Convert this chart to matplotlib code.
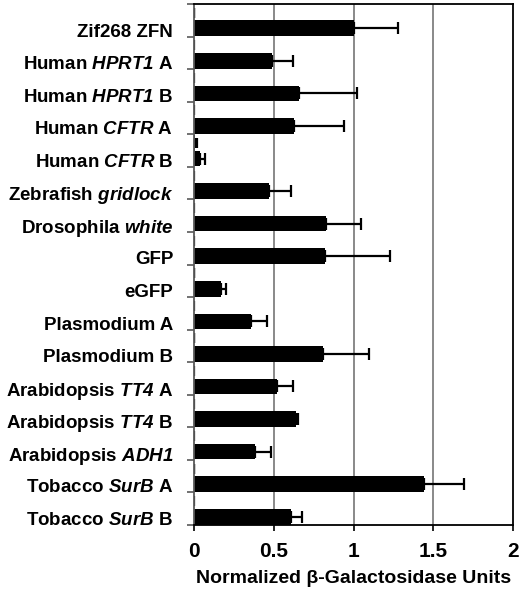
import numpy as np
import matplotlib

matplotlib.use("Agg")
import matplotlib.pyplot as plt

# categories top -> bottom
labels = [
    "Zif268 ZFN",
    r"Human $\mathrm{HPRT1}$ A",
    r"Human $\mathrm{HPRT1}$ B",
    r"Human $\mathrm{CFTR}$ A",
    r"Human $\mathrm{CFTR}$ B",
    r"Zebrafish $\mathrm{gridlock}$",
    r"Drosophila $\mathrm{white}$",
    "GFP",
    "eGFP",
    "Plasmodium A",
    "Plasmodium B",
    r"Arabidopsis $\mathrm{TT4}$ A",
    r"Arabidopsis $\mathrm{TT4}$ B",
    r"Arabidopsis $\mathrm{ADH1}$",
    r"Tobacco $\mathrm{SurB}$ A",
    r"Tobacco $\mathrm{SurB}$ B",
]
main_vals = [1.00, 0.49, 0.66, 0.63, 0.04, 0.47, 0.83, 0.82,
             0.17, 0.36, 0.81, 0.52, 0.64, 0.38, 1.44, 0.61]
main_err = [0.28, 0.13, 0.36, 0.31, 0.03, 0.14, 0.22, 0.41,
            0.03, 0.10, 0.29, 0.10, 0.01, 0.10, 0.25, 0.07]
# second (control) series, almost zero everywhere
ctrl_vals = [0.0, 0.0, 0.0, 0.0, 0.005, 0.0, 0.0, 0.0,
             0.0, 0.0, 0.0, 0.0, 0.0, 0.0, 0.0, 0.0]
ctrl_err = [0.002, np.nan, np.nan, np.nan, 0.015, np.nan, np.nan, np.nan,
            0.002, np.nan, 0.002, np.nan, np.nan, np.nan, 0.002, np.nan]
xticks = [0, 0.5, 1, 1.5, 2]
xtick_labels = ["0", "0.5", "1", "1.5", "2"]

plt.rcParams["font.family"] = "Liberation Sans"
# math is only used for the italic gene names -> bold italic everywhere
plt.rcParams["mathtext.fontset"] = "custom"
plt.rcParams["mathtext.rm"] = "Liberation Sans:italic:bold"
plt.rcParams["mathtext.it"] = "Liberation Sans:italic:bold"

fig = plt.figure(figsize=(5.2, 5.89), dpi=100)
ax = fig.add_axes([194 / 520, 1 - 525 / 589, 319 / 520, 521 / 589])

n = len(labels)
base = np.arange(n)
y_main = base + 0.745
y_ctrl = base + 0.27

for x in [0.5, 1.0, 1.5]:
    ax.axvline(x, color="#808080", lw=1.3, zorder=0)

err_kw = dict(ecolor="black", elinewidth=1.6, capsize=4.5, capthick=1.6)
ax.barh(y_main, main_vals, height=0.48, color="black",
        xerr=[np.zeros(n), main_err], error_kw=err_kw, zorder=2)
ax.barh(y_ctrl, ctrl_vals, height=0.48, color="black",
        xerr=[np.zeros(n), ctrl_err], error_kw=dict(err_kw, capsize=3.5),
        zorder=2)

ax.set_xlim(0, 2)
ax.set_ylim(n, 0)
ax.set_xticks(xticks)
ax.set_xticklabels(xtick_labels, fontsize=15, fontweight="bold")
ax.tick_params(axis="x", direction="out", length=4, width=1.2, pad=8)

ax.set_yticks(base + 0.8)
ax.set_yticklabels(labels, fontsize=13.5, fontweight="bold")
ax.set_yticks(np.arange(n + 1), minor=True)
ax.tick_params(axis="y", which="major", length=0, pad=15)
ax.tick_params(axis="y", which="minor", direction="out", length=5,
               width=1.2, color="#595959")

ax.set_xlabel(r"Normalized β-Galactosidase Units", fontsize=14,
              fontweight="bold", labelpad=7)

for side in ["top", "right", "bottom"]:
    ax.spines[side].set_color("black")
    ax.spines[side].set_linewidth(1.3)
ax.spines["left"].set_color("#595959")
ax.spines["left"].set_linewidth(1.3)

fig.savefig("out.png", dpi=100)
